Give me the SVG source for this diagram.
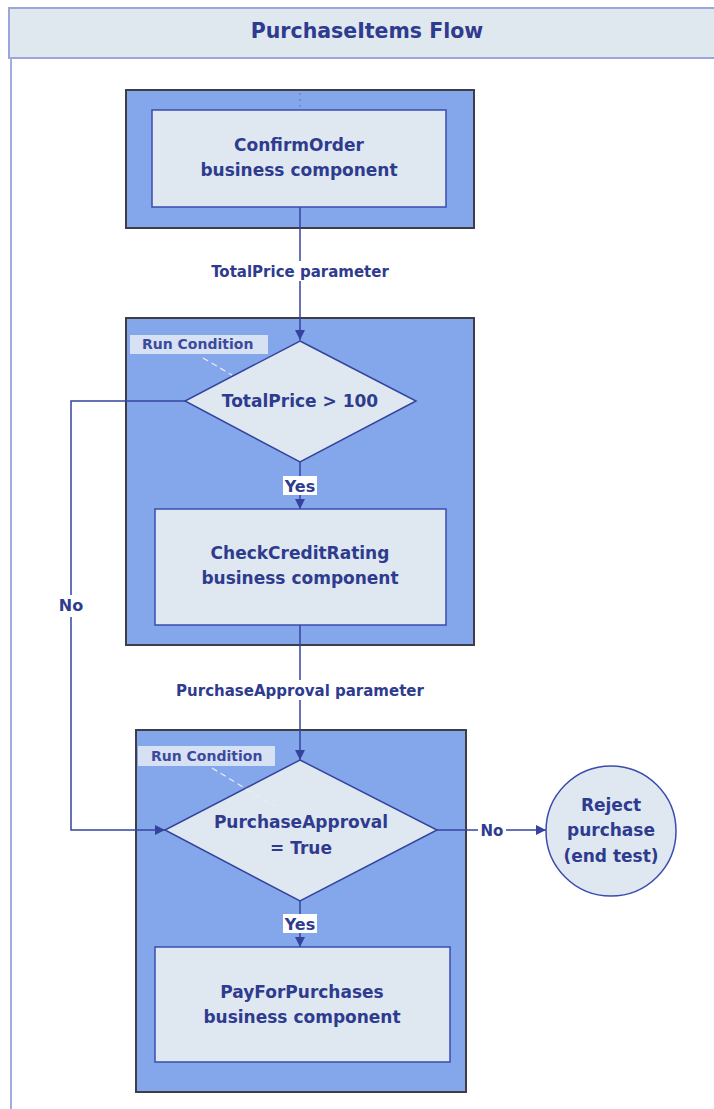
<svg xmlns="http://www.w3.org/2000/svg" width="714" height="1109" viewBox="0 0 714 1109">
<defs>
<style>
text{font-family:"DejaVu Sans","Liberation Sans",sans-serif;font-weight:bold;fill:#2e3b8e;text-anchor:middle}
.main{font-size:17px}
.param{font-size:15px}
.rc{font-size:14px;text-anchor:start;fill:#3b4a9c}
.cont{fill:#84a6ea;stroke:#3e3e48;stroke-width:2}
.inner{fill:#dfe8f0;stroke:#3a4cae;stroke-width:1.5}
.dia{fill:#dfe8f0;stroke:#34449e;stroke-width:1.5}
.rcbox{fill:#e4ebf5;opacity:0.85}
.conn{fill:none;stroke:#34449e;stroke-width:1.5}
.lbg{fill:#ffffff}
</style>
<marker id="arr" viewBox="0 0 10 10" refX="10" refY="5" markerWidth="10" markerHeight="10" markerUnits="userSpaceOnUse" orient="auto">
<path d="M0,0 L10,5 L0,10 Z" fill="#34449e"/>
</marker>
</defs>
<rect width="714" height="1109" fill="#ffffff"/>
<g id="title">
<rect x="9" y="8" width="712" height="50" fill="#dfe7ef" stroke="#9aa6dc" stroke-width="2"/>
<line x1="11" y1="58" x2="11" y2="1109" stroke="#a3acdf" stroke-width="2"/>
<text x="367" y="38" style="font-size:20.5px">PurchaseItems Flow</text>
</g>
<g id="container1">
<rect class="cont" x="126" y="90" width="348" height="138"/>
<line x1="300" y1="93" x2="300" y2="110" stroke="#5f6fb8" stroke-width="1" stroke-dasharray="2,4"/>
</g>
<g id="container2">
<rect class="cont" x="126" y="318" width="348" height="327"/>
</g>
<g id="container3">
<rect class="cont" x="136" y="730" width="330" height="362"/>
</g>
<g id="connectors">
<line class="conn" x1="300" y1="207" x2="300" y2="340" marker-end="url(#arr)"/>
<rect class="lbg" x="204" y="261" width="192" height="20"/>
<text class="param" x="300" y="277">TotalPrice parameter</text>
<line class="conn" x1="300" y1="462" x2="300" y2="509" marker-end="url(#arr)"/>
<rect class="lbg" x="283" y="476" width="34" height="19"/>
<text class="main" x="300" y="492" style="font-size:16px">Yes</text>
<line class="conn" x1="300" y1="625" x2="300" y2="760" marker-end="url(#arr)"/>
<rect class="lbg" x="168" y="680" width="264" height="20"/>
<text class="param" x="300" y="696">PurchaseApproval parameter</text>
<line class="conn" x1="300" y1="900" x2="300" y2="947" marker-end="url(#arr)"/>
<rect class="lbg" x="283" y="914" width="34" height="19"/>
<text class="main" x="300" y="930" style="font-size:16px">Yes</text>
<polyline class="conn" points="187,401 71,401 71,830 165,830" marker-end="url(#arr)"/>
<rect class="lbg" x="56" y="595" width="30" height="22"/>
<text class="main" x="71" y="611" style="font-size:16px">No</text>
<line class="conn" x1="437" y1="830" x2="546" y2="830" marker-end="url(#arr)"/>
<rect class="lbg" x="478" y="821" width="28" height="18"/>
<text class="main" x="492" y="836" style="font-size:15px">No</text>
</g>
<g id="confirmOrder">
<rect class="inner" x="152" y="110" width="294" height="97"/>
<text class="main" x="299" y="151">ConfirmOrder</text>
<text class="main" x="299" y="176">business component</text>
</g>
<g id="cond1">
<rect class="rcbox" x="130" y="335" width="138" height="19"/>
<text class="rc" x="142" y="349">Run Condition</text>
<polygon class="dia" points="300,341 416,401 300,462 185,401"/>
<line x1="203" y1="358" x2="232" y2="375" stroke="#e8eef8" stroke-width="1.2" stroke-dasharray="6,4"/>
<text class="main" x="300" y="407">TotalPrice &gt; 100</text>
</g>
<g id="checkCreditRating">
<rect class="inner" x="155" y="509" width="291" height="116"/>
<text class="main" x="300" y="559">CheckCreditRating</text>
<text class="main" x="300" y="584">business component</text>
</g>
<g id="cond2">
<rect class="rcbox" x="138" y="746" width="137" height="20"/>
<text class="rc" x="151" y="761">Run Condition</text>
<polygon class="dia" points="300,760 437,830 300,901 165,830"/>
<line x1="212" y1="768" x2="274" y2="806" stroke="#e8eef8" stroke-width="1.2" stroke-dasharray="6,4"/>
<text class="main" x="301" y="828">PurchaseApproval</text>
<text class="main" x="301" y="854">= True</text>
</g>
<g id="payForPurchases">
<rect class="inner" x="155" y="947" width="295" height="115"/>
<text class="main" x="302" y="998">PayForPurchases</text>
<text class="main" x="302" y="1023">business component</text>
</g>
<g id="reject">
<circle cx="611" cy="831" r="65" fill="#dfe8f0" stroke="#3a4cae" stroke-width="1.5"/>
<text class="main" x="611" y="811">Reject</text>
<text class="main" x="611" y="836">purchase</text>
<text class="main" x="611" y="862">(end test)</text>
</g>
</svg>
